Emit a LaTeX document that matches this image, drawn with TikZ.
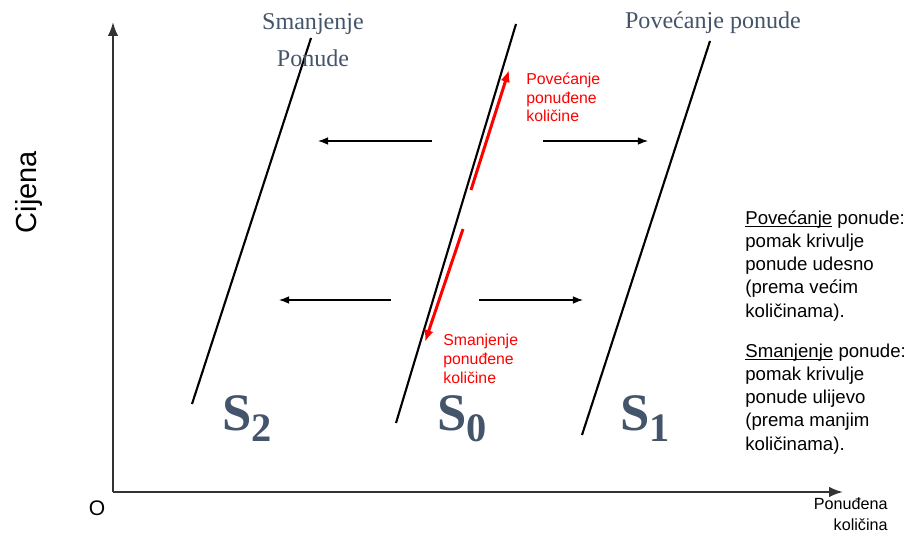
\documentclass[tikz,border=0pt]{standalone}
\usepackage{fontspec}
\setmainfont{Liberation Sans}
\newfontfamily\timesfont{Liberation Serif}
\usetikzlibrary{arrows.meta}
\definecolor{slate}{HTML}{44546A}

\newcommand{\supplylbl}[1]{{\fontsize{30}{30}\selectfont S}{\fontsize{23}{23}\selectfont\raisebox{-6.5pt}{#1}}}
\newcommand{\ulword}[1]{\underline{\smash{#1}}}

\begin{document}
\begin{tikzpicture}[>=Latex,x=0.02cm,y=-0.02cm,
  curve/.style={line width=1.2pt},
  shiftarr/.style={->,line width=0.6pt},
  qty/.style={-{Latex[length=2.4mm,width=1.9mm]},red,line width=1.7pt},
  redtxt/.style={red,font=\fontsize{9}{10.8}\selectfont,align=left,anchor=base west,inner sep=0pt},
  note/.style={font=\fontsize{10.6}{13.2}\selectfont,align=left,anchor=base west,inner sep=0pt},
  title/.style={slate,font=\timesfont\fontsize{13.7}{21.5}\selectfont,align=center,anchor=base,inner sep=0pt},
  slbl/.style={slate,font=\timesfont\bfseries,anchor=base west,inner sep=0pt}]
  \useasboundingbox (0,0) rectangle (904,537);
  % axes
  \coordinate (O) at (113,492);
  \coordinate (ytop) at (113,22);
  \coordinate (xend) at (843,492);
  \draw[->,line width=1.1pt,black!80] (O)--(ytop);
  \draw[->,line width=1.1pt,black!80] (O)--(xend);
  \node[font=\fontsize{12}{12}\selectfont] (olbl) at (97,508) {O};
  \node[rotate=90,font=\fontsize{16.5}{16.5}\selectfont] (ylbl) at (29,192) {Cijena};
  \node[font=\fontsize{9.2}{11.5}\selectfont,align=right,anchor=base east,inner sep=0pt] (xlbl) at (888,530) {Ponuđena\\količina};
  % supply curves
  \coordinate (s2a) at (192,404); \coordinate (s2b) at (311,38);
  \coordinate (s0a) at (396,423); \coordinate (s0b) at (516,24);
  \coordinate (s1a) at (582,435); \coordinate (s1b) at (710,41);
  \draw[curve] (s2a)--(s2b);
  \draw[curve] (s0a)--(s0b);
  \draw[curve] (s1a)--(s1b);
  \node[slbl] (s2) at (222,430) {\supplylbl{2}};
  \node[slbl] (s0) at (437,430) {\supplylbl{0}};
  \node[slbl] (s1) at (620,430) {\supplylbl{1}};
  \node[title] (dec) at (313,67) {Smanjenje\\Ponude};
  \node[title] (inc) at (713,29) {Povećanje ponude};
  % shifts of the curve
  \coordinate (l1a) at (432,141); \coordinate (l1b) at (318,141);
  \coordinate (r1a) at (543,141); \coordinate (r1b) at (648,141);
  \coordinate (l2a) at (391,300); \coordinate (l2b) at (279,300);
  \coordinate (r2a) at (479,300); \coordinate (r2b) at (583,300);
  \draw[shiftarr] (l1a)--(l1b);
  \draw[shiftarr] (r1a)--(r1b);
  \draw[shiftarr] (l2a)--(l2b);
  \draw[shiftarr] (r2a)--(r2b);
  % movement along the curve
  \coordinate (up1) at (471,190); \coordinate (up2) at (509,70);
  \coordinate (dn1) at (463,229); \coordinate (dn2) at (425,342);
  \draw[qty] (up1)--(up2);
  \draw[qty] (dn1)--(dn2);
  \node[redtxt] (uptxt) at (526,122) {Povećanje\\ponuđene\\količine};
  \node[redtxt] (dntxt) at (443,383) {Smanjenje\\ponuđene\\količine};
  % explanation
  \node[note] (incnote) at (745,317) {\ulword{Povećanje} ponude:\\pomak krivulje\\ponude udesno\\(prema većim\\količinama).};
  \node[note] (decnote) at (745,450) {\ulword{Smanjenje} ponude:\\pomak krivulje\\ponude ulijevo\\(prema manjim\\količinama).};
\end{tikzpicture}
\end{document}
